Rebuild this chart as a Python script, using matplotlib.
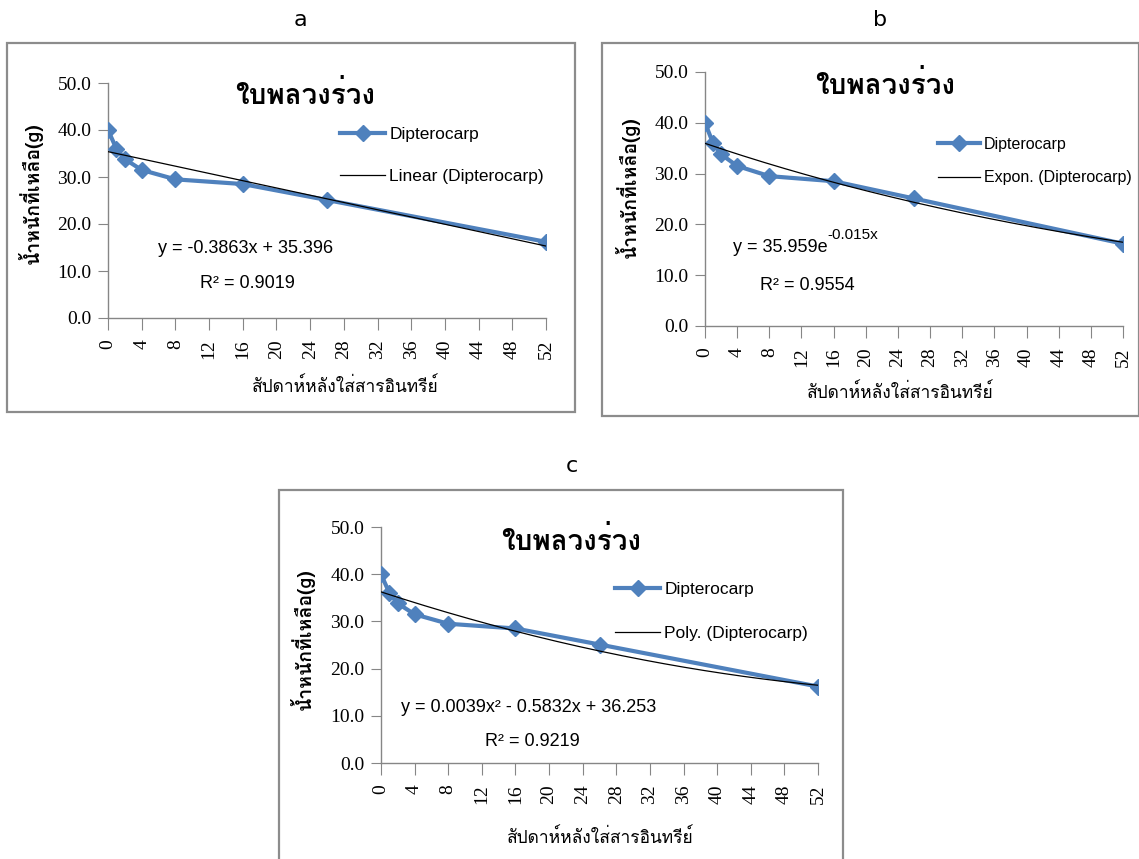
import matplotlib
matplotlib.use("Agg")
import matplotlib.pyplot as plt
import numpy as np
from matplotlib import font_manager
from matplotlib.ft2font import FT2Font
from matplotlib.patches import Rectangle

# --- data ---
weeks = [0, 1, 2, 4, 8, 16, 26, 52]
weight = [40.0, 36.0, 33.8, 31.5, 29.5, 28.5, 25.1, 16.2]
xticks = list(range(0, 53, 4))
yticks = [0, 10, 20, 30, 40, 50]

lin_coef = (-0.3863, 35.396)
exp_coef = (35.959, -0.015)
poly_coef = (0.0039, -0.5832, 36.253)

title_th = "ใบพลวงร่วง"
xlabel_th = "สัปดาห์หลังใส่สารอินทรีย์"
ylabel_th = "น้ำหนักที่เหลือ(g)"
series_name = "Dipterocarp"

W, H = 1139, 859
BLUE = "#4F81BD"


def find_thai_font():
    seen = set()
    for f in font_manager.fontManager.ttflist:
        if f.fname in seen:
            continue
        seen.add(f.fname)
        try:
            cmap = FT2Font(f.fname).get_charmap()
        except Exception:
            continue
        if ord("ก") in cmap and ord("่") in cmap:
            return f.name
    return "DejaVu Sans"


THAI = find_thai_font()
SERIF = "Liberation Serif"
SANS = ["Liberation Sans", "DejaVu Sans"]


def fx(px):
    return px / W


def fy(py):
    return 1 - py / H


fig = plt.figure(figsize=(W / 100, H / 100), dpi=100)
renderer = fig.canvas.get_renderer()


def panel(letter, letter_pos, frame, box, trend_y, trend_label, eq_texts, legend_xy,
          legend_gap, legend_size, title_xy, xlabel_xy, ylabel_xy, sup=None):
    # outer frame
    fl, ft, fr, fb = frame
    fig.patches.append(Rectangle((fx(fl), fy(fb)), fx(fr - fl), (fb - ft) / H,
                                 transform=fig.transFigure, fill=False,
                                 edgecolor="#8c8c8c", linewidth=1.6))
    fig.text(fx(letter_pos[0]), fy(letter_pos[1]), letter, fontsize=16,
             ha="center", va="center", family="DejaVu Sans")

    l, t, r, b = box
    ax = fig.add_axes([fx(l), fy(b), fx(r - l), (b - t) / H])
    ax.plot(weeks, weight, color=BLUE, lw=3, marker="D", ms=8,
            label=series_name, zorder=3)
    xs = np.linspace(0, 52, 200)
    ax.plot(xs, trend_y(xs), color="black", lw=0.9, label=trend_label, zorder=4)

    ax.set_xlim(0, 52)
    ax.set_ylim(0, 50)
    ax.set_xticks(xticks)
    ax.set_xticklabels([str(v) for v in xticks], rotation=90,
                       family=SERIF, fontsize=14)
    ax.set_yticks(yticks)
    ax.set_yticklabels([f"{v:.1f}" for v in yticks], family=SERIF, fontsize=14)
    ax.tick_params(axis="x", length=8.5, color="#868686", pad=7)
    ax.tick_params(axis="y", length=7, color="#868686", pad=5)
    for s in ["top", "right"]:
        ax.spines[s].set_visible(False)
    for s in ["left", "bottom"]:
        ax.spines[s].set_color("#868686")
        ax.spines[s].set_linewidth(1)
    ax.patch.set_alpha(0)

    leg = ax.legend(loc="upper left",
                    bbox_to_anchor=(fx(legend_xy[0]), fy(legend_xy[1])),
                    bbox_transform=fig.transFigure, frameon=False,
                    prop={"family": SANS, "size": legend_size}, handlelength=2.6,
                    handletextpad=0.25, labelspacing=legend_gap, borderpad=0,
                    borderaxespad=0)
    for line in leg.get_lines():
        line.set_markersize(8)

    for (px, py, txt, size) in eq_texts:
        t_obj = fig.text(fx(px), fy(py), txt, fontsize=size, family=SANS,
                         ha="left", va="center")
        if sup is not None and txt.endswith("e"):
            bb = t_obj.get_window_extent(renderer)
            fig.text(bb.x1 / W, fy(py - sup[1]), sup[0], fontsize=sup[2],
                     family=SANS, ha="left", va="center")

    fig.text(fx(title_xy[0]), fy(title_xy[1]), title_th, fontsize=20,
             weight="bold", family=[THAI, "DejaVu Sans"], ha="center", va="center")
    fig.text(fx(xlabel_xy[0]), fy(xlabel_xy[1]), xlabel_th, fontsize=12.5,
             family=[THAI, "DejaVu Sans"], ha="center", va="center")
    fig.text(fx(ylabel_xy[0]), fy(ylabel_xy[1]), ylabel_th, fontsize=14,
             weight="bold", family=[THAI, "DejaVu Sans"], ha="center",
             va="center", rotation=90)
    return ax


# --- a: linear ---
panel("a", (300, 20), (7, 43, 575, 412), (108, 83, 546, 318),
      lambda x: lin_coef[0] * x + lin_coef[1], "Linear (Dipterocarp)",
      [(158, 248, "y = -0.3863x + 35.396", 13),
       (200, 283, "R² = 0.9019", 13)],
      (340, 127), 1.55, 12.5, (305, 94), (345, 387), (30, 193))

# --- b: exponential ---
panel("b", (880, 20), (602, 43, 1139, 416), (705, 72, 1123, 326),
      lambda x: exp_coef[0] * np.exp(exp_coef[1] * x), "Expon. (Dipterocarp)",
      [(733, 247, "y = 35.959e", 13),
       (760, 285, "R² = 0.9554", 13)],
      (938, 137), 1.15, 11.5, (885, 84), (900, 393), (627, 187),
      sup=("-0.015x", 12, 11))

# --- c: polynomial ---
panel("c", (572, 466), (279, 490, 843, 862), (381, 527, 818, 763),
      lambda x: poly_coef[0] * x ** 2 + poly_coef[1] * x + poly_coef[2],
      "Poly. (Dipterocarp)",
      [(401, 707, "y = 0.0039x² - 0.5832x + 36.253", 13),
       (485, 742, "R² = 0.9219", 13)],
      (615, 582), 1.65, 12.5, (571, 540), (600, 838), (302, 639))

fig.savefig("out.png", dpi=100)
